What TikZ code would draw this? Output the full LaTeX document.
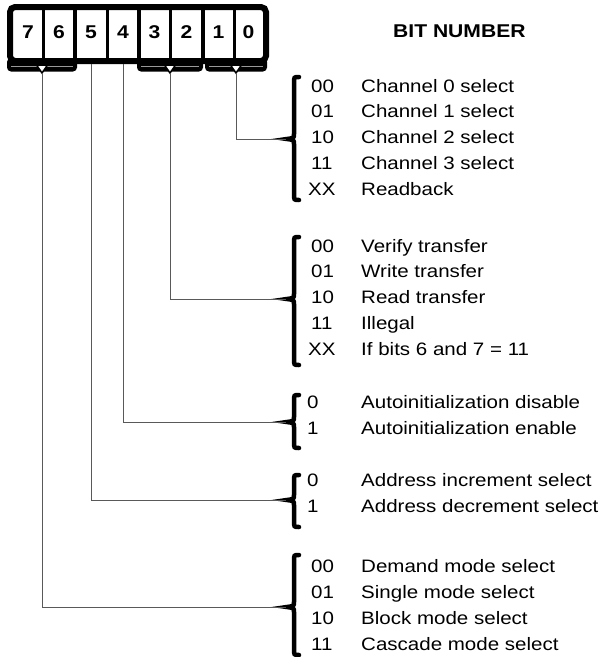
\documentclass[tikz,border=0pt]{standalone}
\usepackage{fontspec}
\setmainfont{Liberation Sans}[FakeStretch=1.14]
\begin{document}
\begin{tikzpicture}[x=1pt, y=-1pt]
  \tikzset{
    codetext/.style={anchor=base west, inner sep=0pt, font=\fontsize{18}{18}\selectfont},
    bittext/.style={anchor=base, inner sep=0pt, font=\fontsize{18.5}{18.5}\selectfont\bfseries},
    wire/.style={black!65, line width=1pt},
    bracket/.style={line width=4.5pt, line cap=round},
  }
  \useasboundingbox (0,0) rectangle (614,657);

  % Register frame and cell dividers
  \draw[line width=6pt, rounded corners=5pt] (10,7) rectangle (266,61);
  \foreach \xd/\w in {43/3, 75/4.5, 107.5/3, 139/4.5, 170/3, 203/4.5, 234/3}
    \draw[line width=\w pt] (\xd,7) -- (\xd,61);

  % Bit numbers
  \foreach \b/\xc in {7/28, 6/59, 5/91, 4/123, 3/154.5, 2/186.5, 1/218.5, 0/248.5}
    \node[bittext] (bit\b) at (\xc,38.5) {\b};
  \node[bittext, anchor=base west] (title) at (393,37) {BIT NUMBER};

  % Group tabs under the register
  \foreach \xa/\xb/\name in {7/77/tab76, 137/203/tab32, 205/267/tab10} {
    \fill[rounded corners=4pt] (\xa,58) -- (\xa,71.5) -- (\xb,71.5) -- (\xb,58) -- cycle;
    \draw[black!40, line width=1.2pt] (\xa+4,66.5) -- (\xb-4,66.5);
    \filldraw[fill=white, draw=black, line width=1.5pt]
      ({(\xa+\xb)/2-5.5},65) -- ({(\xa+\xb)/2+5.5},65) -- ({(\xa+\xb)/2},73) -- cycle;
    \coordinate (\name) at ({(\xa+\xb)/2},74);
  }
  \coordinate (b5) at (91,64);
  \coordinate (b4) at (123.5,64);

  % Braces
  \foreach \g/\ya/\ym/\yb in {1/77/139/200, 2/237/299/365, 3/395/422/448, 4/475/500/527, 5/555/607/655} {
    \draw[bracket] (299,\ya) .. controls (294,\ya) .. (294,\ya+6) -- (294,\ym-5)
      .. controls (294,\ym-1) .. (287,\ym) .. controls (294,\ym+1) .. (294,\ym+5)
      -- (294,\yb-6) .. controls (294,\yb) .. (299,\yb);
    \coordinate (tip\g) at (286,\ym);
  }

  % Connectors from bits to braces
  \draw[wire] (tab10) |- (tip1);
  \draw[wire] (tab32) |- (tip2);
  \draw[wire] (b4) |- (tip3);
  \draw[wire] (b5) |- (tip4);
  \draw[wire] (tab76) |- (tip5);

  % Codes and meanings
  \foreach \xc/\yr/\code/\desc [count=\k] in {
      311/92/00/Channel 0 select, 311/117.8/01/Channel 1 select, 311/143.6/10/Channel 2 select,
      311/169.4/11/Channel 3 select, 308/195.2/XX/Readback,
      311/252/00/Verify transfer, 311/277.8/01/Write transfer, 311/303.6/10/Read transfer,
      311/329.4/11/Illegal, 308/355.2/XX/If bits 6 and 7 = 11,
      307/408/0/Autoinitialization disable, 307/434/1/Autoinitialization enable,
      307/486/0/Address increment select, 307/512/1/Address decrement select,
      311/572/00/Demand mode select, 311/598/01/Single mode select,
      311/624/10/Block mode select, 311/650/11/Cascade mode select} {
    \node[codetext] (code\k) at (\xc,\yr) {\code};
    \node[codetext] (desc\k) at (361,\yr) {\desc};
  }

\end{tikzpicture}
\end{document}
